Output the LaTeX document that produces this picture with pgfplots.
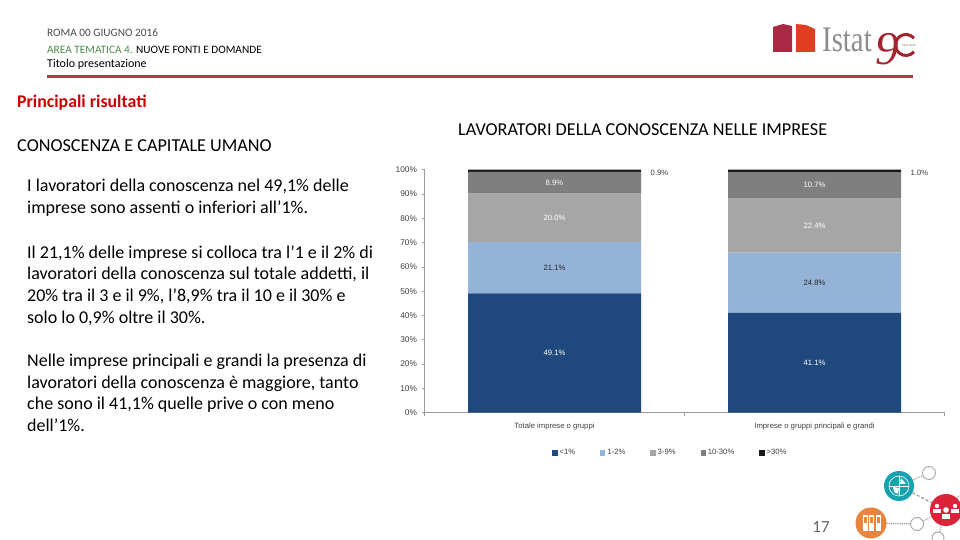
\documentclass[border=0pt]{standalone}
\usepackage{fontspec}
\setmainfont{Carlito}
\newfontfamily\chartfont{Liberation Sans}
\newfontfamily\logofont{Liberation Serif}
\usepackage{pgfplots}
\usepackage{pgfplotstable}
\pgfplotsset{compat=1.18}
\definecolor{c1}{HTML}{1F497D}
\definecolor{c2}{HTML}{95B3D7}
\definecolor{c3}{HTML}{A6A6A6}
\definecolor{c4}{HTML}{7F7F7F}
\definecolor{c5}{HTML}{1A1A1A}
\definecolor{rulered}{HTML}{B03A48}
\definecolor{axisgray}{HTML}{9A9A9A}
\definecolor{chartText}{HTML}{404040}
\definecolor{bookA}{HTML}{A82A44}
\definecolor{bookB}{HTML}{DE3F20}
\definecolor{logo90}{HTML}{A32530}
\definecolor{iconTeal}{HTML}{17A2B0}
\definecolor{iconRed}{HTML}{DA2238}
\definecolor{iconOrange}{HTML}{E8853C}
\pgfplotstableread{
x a b c d e
0 49.1 21.1 20.0 8.9 0.9
1 41.1 24.8 22.4 10.7 1.0
}\shares
\pgfplotsset{
  % stacked bars already put these nodes at the middle of each segment
  seglabel/.style 2 args={
    point meta=\thisrow{#1},
    nodes near coords={\pgfmathprintnumber[fixed,fixed zerofill,precision=1,assume math mode=true]{\pgfplotspointmeta}\%},
    every node near coord/.append style={font=\chartfont\fontsize{7.7}{9}\selectfont,text=#2},
  },
}
\newcommand{\txt}[3][black]{\node[anchor=west,inner sep=0pt,text=#1,yshift=-1.5pt] at (#2) {\strut #3};}
\begin{document}
\begin{tikzpicture}
\path[use as bounding box] (0pt,0pt) rectangle (960pt,540pt);
\fill[white] (0pt,0pt) rectangle (960pt,540pt);
\begin{axis}[
  at={(424.5pt,127.3pt)}, anchor=south west,
  scale only axis, width=520pt, height=243pt,
  ybar stacked, bar width=173pt,
  xmin=-0.5, xmax=1.5, ymin=0, ymax=100,
  clip=false,
  axis x line=bottom, axis y line=left,
  axis line style={axisgray,-,line width=0.9pt},
  xtick={0,1}, xticklabels={Totale imprese o gruppi,Imprese o gruppi principali e grandi},
  ytick={0,10,...,100},
  yticklabel={\pgfmathprintnumber{\tick}\%},
  /pgf/number format/assume math mode=true,
  major x tick style={draw=none},
  minor xtick={-0.5,0.5,1.5},
  minor tick length=3pt,
  major tick length=3pt,
  tick style={axisgray,line width=0.6pt},
  tick align=outside,
  ticklabel style={font=\chartfont\fontsize{7.7}{9}\selectfont,text=chartText},
  yticklabel style={font=\chartfont\fontsize{8.3}{9}\selectfont,xshift=-1pt},
  xticklabel style={yshift=-3.5pt},
  legend style={at={(0.473,-0.166)},anchor=center,draw=none,fill=none,
    font=\chartfont\fontsize{7.7}{9}\selectfont,text=chartText,
    /tikz/every even column/.append style={column sep=23pt}},
  legend columns=5,
  legend image code/.code={\fill[#1] (0pt,-2.6pt) rectangle (5.2pt,2.6pt);},
]
\addplot[fill=c1,draw=none,seglabel={a}{white}] table[x=x,y=a] {\shares};
\addlegendentry{<1\%}
\addplot[fill=c2,draw=none,seglabel={b}{black!85}] table[x=x,y=b] {\shares};
\addlegendentry{1-2\%}
\addplot[fill=c3,draw=none,seglabel={c}{white}] table[x=x,y=c] {\shares};
\addlegendentry{3-9\%}
\addplot[fill=c4,draw=none,seglabel={d}{white}] table[x=x,y=d] {\shares};
\addlegendentry{10-30\%}
\addplot[fill=c5,draw=none,seglabel={e}{chartText},
  every node near coord/.append style={xshift=105pt,yshift=-2pt}] table[x=x,y=e] {\shares};
\addlegendentry{>30\%}
\end{axis}

% slide furniture, in pixel coordinates from the top left
\begin{scope}[x=1pt,y=-1pt,yshift=540pt]
\begin{scope}[font=\fontsize{11.3}{13}\selectfont]
\txt[black!70]{47,32}{ROMA 00 GIUGNO 2016}
\txt{47,49}{\textcolor{green!35!black!70}{AREA TEMATICA 4.} NUOVE FONTI E DOMANDE}
\end{scope}
\begin{scope}[font=\fontsize{12}{13}\selectfont]
\txt{47,63}{Titolo presentazione}
\end{scope}
\fill[rulered] (47,75.4) rectangle (913,77.9);
\begin{scope}[font=\fontsize{18.2}{20}\selectfont]
\txt[red!80!black]{17,102}{\fontsize{17.8}{20}\selectfont\textbf{Principali risultati}}
\txt{17,146}{CONOSCENZA E CAPITALE UMANO}
\txt{458,130}{LAVORATORI DELLA CONOSCENZA NELLE IMPRESE}
\end{scope}
\begin{scope}[font=\fontsize{18}{20}\selectfont]
\txt{27,186}{I lavoratori della conoscenza nel 49,1\% delle}
\txt{27,208}{imprese sono assenti o inferiori all’1\%.}
\txt{27,253}{Il 21,1\% delle imprese si colloca tra l’1 e il 2\% di}
\txt{27,274}{lavoratori della conoscenza sul totale addetti, il}
\txt{27,296}{20\% tra il 3 e il 9\%, l’8,9\% tra il 10 e il 30\% e}
\txt{27,318}{solo lo 0,9\% oltre il 30\%.}
\txt{27,361}{Nelle imprese principali e grandi la presenza di}
\txt{27,383}{lavoratori della conoscenza è maggiore, tanto}
\txt{27,404}{che sono il 41,1\% quelle prive o con meno}
\txt{27,426}{dell’1\%.}
\end{scope}
\node[text=black!60,font=\fontsize{17}{18}\selectfont] at (821,527) {17};

% logo
\fill[bookA] (773,27) -- (783,24) -- (792,26) -- (792,52) -- (773,52) -- cycle;
\fill[bookB] (796,24) -- (806,25) -- (815,29) -- (815,52) -- (796,52) -- cycle;
\node[inner sep=0pt,anchor=base west,text=black!45,xscale=0.8,font=\logofont\fontsize{36}{36}\selectfont] at (822,52) {Istat};
\node[inner sep=0pt,anchor=base west,text=logo90,font=\logofont\itshape\fontsize{47}{47}\selectfont] at (875,65) {9};
\draw[logo90,line width=3pt] (914,51.75) arc[start angle=40,end angle=320,radius=10.5];
\node[text=black!50,font=\chartfont\fontsize{3}{3}\selectfont,inner sep=0pt] at (909,45) {1926-2016};

% network icons
\draw[black!40,line width=1pt,densely dotted] (899,486) -- (929,473);
\draw[black!40,line width=1.2pt,densely dashed] (899,486) -- (946,510);
\draw[black!40,line width=1.2pt,densely dotted] (871,523) -- (917,524);
\draw[black!40,line width=1pt,densely dotted] (946,510) -- (917,524);
\draw[black!40,line width=1pt,densely dotted] (946,510) -- (938,537);
\draw[black!40,line width=1pt,densely dotted] (946,510) -- (960,495);
\foreach \cx/\cy/\r in {929/473/6.5,917/524/6.5,938/538/6}
  \filldraw[draw=black!35,fill=white,line width=0.9pt] (\cx,\cy) circle[radius=\r];
\fill[iconTeal] (899,486) circle[radius=15];
\draw[white,line width=0.6pt] (899,486) circle[radius=10];
\draw[white,line width=0.5pt] (889,486) -- (909,486) (899,476) -- (899,496);
\fill[white] (893,487) -- (899,488) -- (898,494) -- (894,492) -- cycle;
\fill[white] (901,478) -- (906,484) -- (900,484) -- cycle;
\fill[iconOrange] (871,523) circle[radius=15.5];
\foreach \bx in {862.5,869,875.5}{
  \fill[white] (\bx,515) rectangle ++(5,16);
  \fill[iconOrange] (\bx+1,517) rectangle ++(3,6);
}
\fill[iconRed] (946,510) circle[radius=16];
\foreach \px/\py/\s in {937/506/2.2,955/506/2.2,946/510/2.8}{
  \fill[white] (\px,\py) circle[radius=\s];
  \fill[white] (\px-1.6*\s,\py+1.4*\s) rectangle (\px+1.6*\s,\py+3.2*\s);
}
\end{scope}
\end{tikzpicture}
\end{document}
